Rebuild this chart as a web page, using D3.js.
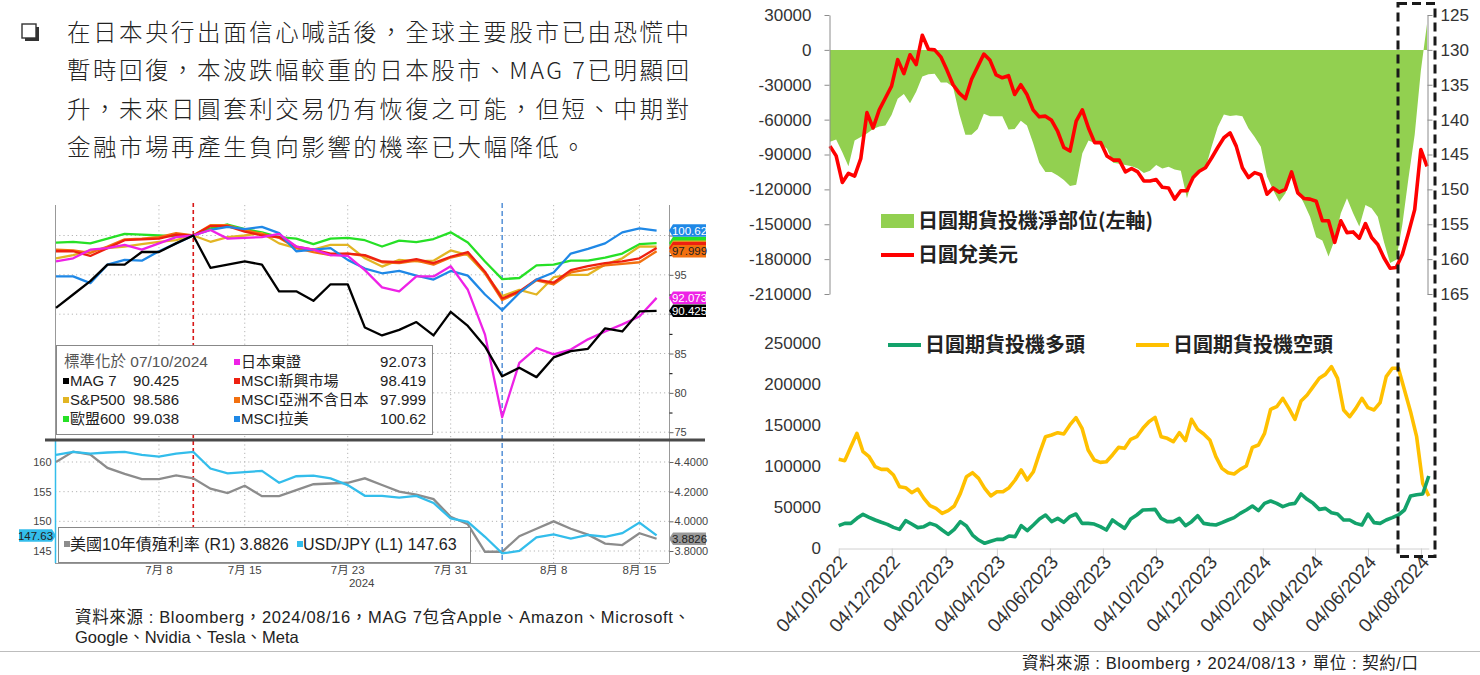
<!DOCTYPE html>
<html>
<head>
<meta charset="utf-8">
<script src="https://cdn.jsdelivr.net/npm/d3@7"></script>
<style>
  body { margin: 0; background: #fff; }
  svg { display: block; font-family: "Liberation Sans", "Noto Sans CJK TC", sans-serif; }
</style>
</head>
<body>
<svg id="chart" width="1480" height="675"></svg>
<script>
// ---------- data: left panel (Bloomberg, rebased to 07/10/2024 = 100) ----------
var bbDates = ["2024-06-28","2024-07-01","2024-07-02","2024-07-03","2024-07-04","2024-07-05",
  "2024-07-08","2024-07-09","2024-07-10","2024-07-11","2024-07-12","2024-07-15","2024-07-16",
  "2024-07-17","2024-07-18","2024-07-19","2024-07-22","2024-07-23","2024-07-24","2024-07-25",
  "2024-07-26","2024-07-29","2024-07-30","2024-07-31","2024-08-01","2024-08-02","2024-08-05",
  "2024-08-06","2024-08-07","2024-08-08","2024-08-09","2024-08-12","2024-08-13","2024-08-14",
  "2024-08-15","2024-08-16"];
var bbTicks = ["2024-07-08","2024-07-15","2024-07-23","2024-07-31","2024-08-08","2024-08-15"];
var bbTickLabels = ["7月 8","7月 15","7月 23","7月 31","8月 8","8月 15"];

var mag7 = [90.8,92.5,94.2,96.3,96.3,97.9,97.9,99.0,100,95.9,96.3,96.7,96.3,92.9,92.9,91.7,93.8,93.8,
  88.3,87.3,88.0,89.0,87.3,90.3,88.5,85.9,82.1,83.2,82.0,84.5,85.3,85.6,88.2,87.8,90.35,90.425];
var topix = [96.7,97.1,98.2,98.4,98.8,98.2,99.0,99.8,100,100.7,99.6,99.7,99.8,100.2,98.6,98.2,97.5,97.4,
  95.6,93.4,92.9,94.8,94.8,96.1,93.1,87.4,76.9,83.8,85.7,84.9,85.5,86.8,87.8,88.7,89.7,92.073];
var msciEm = [98.0,98.0,97.4,98.4,99.4,99.5,99.6,100.1,100,101.2,101.2,100.5,100.0,99.8,98.6,98.2,97.7,97.7,
  97.5,96.7,96.6,97.0,96.5,97.3,97.9,95.4,92.0,92.9,94.4,94.0,95.6,96.1,96.5,96.7,97.1,98.419];
var msciAsiaXJ = [98.2,98.1,97.8,98.6,99.5,99.6,99.8,100.3,100,101.3,101.3,100.7,100.2,99.7,98.4,97.9,97.5,97.7,
  97.4,96.6,96.5,96.8,96.3,97.2,97.7,95.2,91.8,92.8,94.3,93.8,95.3,95.7,96.2,96.4,96.6,97.999];
var spx = [97.1,97.5,98.1,98.4,98.6,98.9,99.2,99.4,100,99.2,99.8,100.0,100.3,99.0,98.4,98.2,98.8,98.8,
  97.1,96.05,96.9,96.7,96.8,98.1,97.5,95.2,92.3,93.1,92.5,94.7,95.0,95.0,96.3,97.1,98.6,98.586];
var stoxx600 = [99.1,99.2,99.0,99.6,100.2,100.1,100.0,99.9,100,100.9,101.4,100.8,100.4,99.8,99.6,98.9,99.6,99.7,
  99.4,98.6,99.35,99.15,99.55,100.4,99.1,96.7,94.45,94.6,96.2,96.3,96.8,96.8,97.2,97.7,98.9,99.038];
var msciLatam = [94.8,94.8,93.95,96.3,96.9,96.8,98.0,99.0,100,100.7,101.1,100.8,101.1,100.3,98.0,98.2,98.4,96.9,
  95.8,95.2,95.5,94.9,94.4,95.5,94.9,92.5,90.5,92.7,94.4,95.3,97.7,98.3,99.0,100.4,100.9,100.62];
var us10y = [4.40,4.47,4.45,4.36,4.32,4.285,4.285,4.31,4.29,4.22,4.19,4.24,4.17,4.17,4.21,4.25,4.255,4.26,
  4.29,4.245,4.20,4.18,4.15,4.03,3.98,3.795,3.795,3.90,3.95,4.00,3.95,3.91,3.85,3.84,3.92,3.8826];
var usdjpyDaily = [161.2,161.7,161.4,161.6,161.7,161.2,160.9,161.4,161.7,158.9,158.1,158.3,158.5,156.5,157.6,157.7,
  157.25,156.1,154.3,154.3,154.0,154.3,153.1,150.5,149.9,147.4,144.6,145.0,147.3,147.8,147.1,147.7,147.4,148.0,149.8,147.63];

// ---------- data: right panel (CFTC yen futures, weekly from 04/10/2022) ----------
var cotStart = "2022-10-04";
var netPos = [-79000,-77000,-88000,-100000,-78000,-75000,-72000,-68000,-66000,-65000,-56000,-42000,-38000,-46000,
  -36000,-23000,-21000,-20500,-28000,-28000,-32000,-55000,-73000,-73000,-68000,-55000,-57000,-57000,-57000,-68500,
  -68000,-61000,-65000,-80000,-97000,-105000,-105000,-108000,-112000,-117000,-116000,-89000,-78000,-80000,-81000,
  -85000,-97000,-98000,-99000,-100000,-102000,-106000,-104000,-99000,-102000,-100600,-103000,-104000,-127700,
  -109000,-105000,-102000,-83400,-66300,-55500,-56900,-56300,-57200,-67700,-74900,-83400,-109000,-120600,-130600,
  -123400,-105700,-122000,-132000,-143500,-161200,-164000,-177700,-163400,-140600,-127700,-140600,-152000,-133400,
  -136300,-143500,-165000,-183400,-180600,-150000,-110000,-73000,-18000,22300];
var usdjpyWeekly = [143.8,145.2,149.0,147.7,148.1,145.6,139.0,141.2,138.6,136.9,135.2,131.4,133.4,130.7,132.1,127.9,
  129.9,130.0,131.0,132.9,135.0,136.2,137.0,134.2,132.4,130.6,131.5,133.6,134.0,133.7,136.4,135.0,136.4,138.6,139.6,
  139.5,140.1,141.7,144.0,144.5,140.2,138.6,141.2,143.3,143.3,145.2,145.8,145.8,147.5,147.0,147.5,148.8,148.8,148.6,
  149.7,149.8,151.4,150.2,150.2,148.3,147.4,146.9,145.5,144.0,142.6,141.9,143.8,146.9,148.3,147.6,147.9,150.7,149.8,
  150.4,150.0,147.5,150.5,151.3,151.4,151.7,154.5,154.5,157.6,154.5,156.2,156.1,157.0,154.9,156.9,157.9,159.8,161.3,
  161.2,159.3,156.2,152.9,144.3,146.7];
var longPos = [27600,30400,30400,36500,41400,37800,34500,31700,29200,25500,23100,33700,29600,25200,26400,30400,28000,
  22300,17000,23100,32500,27200,16200,10100,6100,8500,10900,10900,15000,14200,27600,21500,28400,35700,40600,32500,
  36500,31700,38600,41800,30400,30400,29600,26400,22300,34500,29200,24300,35700,40600,46700,47100,47500,36500,32500,
  32500,36500,27600,32500,39800,30400,29200,28400,31300,34500,37400,42600,46700,51600,45900,54800,57700,54800,50800,
  53600,54800,66200,59700,54800,47500,48700,43400,41800,34500,34500,30400,28400,41800,31300,30400,34500,37400,40600,
  46700,63800,65400,66200,88200];
var shortPos = [108500,106900,123900,140200,117800,111700,99500,96300,96300,89400,75100,73900,67800,72300,60900,52000,
  48700,42600,45900,51600,67000,87300,92200,85300,73100,63800,69000,69000,73900,83300,95500,83300,93400,115800,
  136100,138200,141000,139400,150400,159300,146300,119900,107700,104800,105600,113800,123100,121900,132900,136100,
  146300,154400,159700,136100,134100,130000,141000,131300,157300,145100,139400,132100,111700,97500,92200,90600,96300,
  100400,123100,126000,140200,169500,172700,182900,170700,157300,179600,186900,197100,207300,212100,221500,207300,
  168700,160500,170700,182900,171500,168700,177600,209300,219500,219500,193000,166600,136100,79200,63800];
var cotTicks = ["2022-10-04","2022-12-04","2023-02-04","2023-04-04","2023-06-04","2023-08-04","2023-10-04",
  "2023-12-04","2024-02-04","2024-04-04","2024-06-04","2024-08-04"];
var netTicks = [30000,0,-30000,-60000,-90000,-120000,-150000,-180000,-210000];
var fxTicks = [125,130,135,140,145,150,155,160,165];
var posTicks = [0,50000,100000,150000,200000,250000];

var introLines = [
  "在日本央行出面信心喊話後，全球主要股市已由恐慌中",
  "暫時回復，本波跌幅較重的日本股市、MAG 7已明顯回",
  "升，未來日圓套利交易仍有恢復之可能，但短、中期對",
  "金融市場再產生負向影響的機率已大幅降低。"
];

var parse = d3.timeParse("%Y-%m-%d");
var svg = d3.select("#chart");
svg.append("rect").attr("width", 1480).attr("height", 675).attr("fill", "#fff");

// ---------- intro text ----------
svg.append("rect").attr("x", 25).attr("y", 27).attr("width", 14).attr("height", 14).attr("fill", "#333");
svg.append("rect").attr("x", 22).attr("y", 24).attr("width", 14).attr("height", 14)
  .attr("fill", "#fff").attr("stroke", "#333").attr("stroke-width", 1.4);
svg.append("g").selectAll("text").data(introLines).enter().append("text")
  .attr("x", 67)
  .attr("y", function(d, i) { return 41 + i * 38.3; })
  .attr("textLength", function(d, i) { return i < 3 ? 622 : 518; })
  .attr("lengthAdjust", "spacing")
  .style("font-family", "'Noto Sans CJK TC', sans-serif")
  .style("font-weight", 300)
  .style("font-size", "23.5px")
  .attr("fill", "#222")
  .text(function(d) { return d; });

// ---------- left: Bloomberg chart ----------
var bb = svg.append("g").style("font-family", "'Liberation Sans Narrow','Liberation Sans','Noto Sans CJK TC',sans-serif");
var xL = d3.scalePoint().domain(bbDates).range([56, 656.6]);
var yL = d3.scaleLinear().domain([75, 100]).range([432.2, 235.5]);
var yR1 = d3.scaleLinear().domain([3.8, 4.4]).range([551, 462]);
var yL1 = d3.scaleLinear().domain([145, 160]).range([551, 462]);

// gridlines
bb.selectAll(".hg").data([75, 80, 85, 90, 95, 100]).enter().append("line")
  .attr("x1", 55).attr("x2", 669).attr("y1", function(d) { return yL(d); }).attr("y2", function(d) { return yL(d); })
  .attr("stroke", "#b5b5b5").attr("stroke-dasharray", "1.2,3");
bb.selectAll(".hg2").data([3.8, 4.0, 4.2, 4.4]).enter().append("line")
  .attr("x1", 55).attr("x2", 669).attr("y1", function(d) { return yR1(d); }).attr("y2", function(d) { return yR1(d); })
  .attr("stroke", "#b5b5b5").attr("stroke-dasharray", "1.2,3");
bb.selectAll(".vg").data(bbTicks).enter().append("line")
  .attr("x1", function(d) { return xL(d); }).attr("x2", function(d) { return xL(d); })
  .attr("y1", 205).attr("y2", 563)
  .attr("stroke", "#b5b5b5").attr("stroke-dasharray", "1.2,3");

// event markers
bb.append("line").attr("x1", xL("2024-07-10")).attr("x2", xL("2024-07-10")).attr("y1", 203).attr("y2", 563)
  .attr("stroke", "#d81818").attr("stroke-width", 1.6).attr("stroke-dasharray", "4,3");
bb.append("line").attr("x1", xL("2024-08-05")).attr("x2", xL("2024-08-05")).attr("y1", 203).attr("y2", 563)
  .attr("stroke", "#3a7fd0").attr("stroke-width", 1.3).attr("stroke-dasharray", "5,3");

// frame
bb.append("line").attr("x1", 55.5).attr("x2", 55.5).attr("y1", 205).attr("y2", 440).attr("stroke", "#999");
bb.append("line").attr("x1", 55.5).attr("x2", 55.5).attr("y1", 440).attr("y2", 563).attr("stroke", "#33bdeb").attr("stroke-width", 1.5);
bb.append("line").attr("x1", 669.5).attr("x2", 669.5).attr("y1", 205).attr("y2", 563).attr("stroke", "#999");
bb.append("line").attr("x1", 55).attr("x2", 669).attr("y1", 563.5).attr("y2", 563.5).attr("stroke", "#999");

// lines
var bbSeries = [
  { values: stoxx600, color: "#26e026" },
  { values: spx, color: "#e2b524" },
  { values: msciAsiaXJ, color: "#f2700f" },
  { values: msciEm, color: "#ee2010" },
  { values: msciLatam, color: "#1f88e6" },
  { values: topix, color: "#ee22e6" },
  { values: mag7, color: "#000" }
];
var lineL = d3.line().x(function(d, i) { return xL(bbDates[i]); }).y(function(d) { return yL(d); });
bb.selectAll(".ser").data(bbSeries).enter().append("path")
  .attr("d", function(s) { return lineL(s.values); })
  .attr("fill", "none").attr("stroke", function(s) { return s.color; }).attr("stroke-width", 2.3)
  .attr("stroke-linejoin", "round");

bb.append("path").datum(us10y)
  .attr("d", d3.line().x(function(d, i) { return xL(bbDates[i]); }).y(function(d) { return yR1(d); }))
  .attr("fill", "none").attr("stroke", "#8c8c8c").attr("stroke-width", 2.3);
bb.append("path").datum(usdjpyDaily)
  .attr("d", d3.line().x(function(d, i) { return xL(bbDates[i]); }).y(function(d) { return yL1(d); }))
  .attr("fill", "none").attr("stroke", "#33bdeb").attr("stroke-width", 2.3);

// right axis top panel (90 and 100 sit behind the value tags)
var axT = bb.append("g").attr("transform", "translate(669.5,0)")
  .call(d3.axisRight(yL).tickValues([75, 80, 85, 90, 95, 100]).tickSize(4).tickPadding(1)
    .tickFormat(function(d) { return (d === 90 || d === 100) ? "" : d3.format("d")(d); }));
bb.append("g").attr("transform", "translate(669.5,0)")
  .call(d3.axisRight(yL).tickValues([77.5, 82.5, 87.5, 92.5, 97.5]).tickSize(3).tickFormat(""));
var axB = bb.append("g").attr("transform", "translate(669.5,0)")
  .call(d3.axisRight(yR1).tickValues([3.8, 4.0, 4.2, 4.4]).tickSize(4).tickPadding(1).tickFormat(d3.format(".4f")));
var axL = bb.append("g").attr("transform", "translate(55.5,0)")
  .call(d3.axisLeft(yL1).tickValues([145, 150, 155, 160]).tickSize(0).tickPadding(4).tickFormat(d3.format("d")));
[axT, axB, axL].forEach(function(a) {
  a.select(".domain").remove();
  a.selectAll("line").attr("stroke", "#666");
  a.selectAll("text").attr("fill", "#444").style("font-size", "11px");
});
bb.selectAll(".domain").remove();

// x labels
bb.selectAll(".xl").data(bbTicks).enter().append("text")
  .attr("x", function(d) { return xL(d); }).attr("y", 574)
  .attr("text-anchor", "middle").attr("fill", "#444").style("font-size", "11.5px")
  .text(function(d, i) { return bbTickLabels[i]; });
bb.append("text").attr("x", xL("2024-07-23") + 14).attr("y", 587).attr("text-anchor", "middle")
  .attr("fill", "#444").style("font-size", "11.5px").text("2024");

// value tags (the ones stacked behind show only as coloured strips)
function tag(x, y, fill, txt, txtColor, pointLeft) {
  var h = 12.5, a = 4, w = 37;
  var p = pointLeft
    ? "M" + x + "," + y + "L" + (x + a) + "," + (y - h / 2) + "L" + (x + w) + "," + (y - h / 2) + "L" + (x + w) + "," + (y + h / 2) + "L" + (x + a) + "," + (y + h / 2) + "Z"
    : "M" + x + "," + y + "L" + (x - a) + "," + (y - h / 2) + "L" + (x - w) + "," + (y - h / 2) + "L" + (x - w) + "," + (y + h / 2) + "L" + (x - a) + "," + (y + h / 2) + "Z";
  bb.append("path").attr("d", p).attr("fill", fill);
  if (txt) {
    bb.append("text").attr("x", pointLeft ? x + a + (w - a) / 2 : x - a - (w - a) / 2).attr("y", y)
      .attr("dy", "0.36em").attr("text-anchor", "middle").attr("fill", txtColor).style("font-size", "11.5px").text(txt);
  }
}
var fmt5 = d3.format(".5");
tag(669, yL(stoxx600[35]), "#26e026", null, "#222", true);
tag(669, yL(spx[35]), "#e2b524", null, "#222", true);
tag(669, yL(msciEm[35]), "#ee2010", null, "#fff", true);
tag(669, yL(msciAsiaXJ[35]), "#f2700f", fmt5(msciAsiaXJ[35]), "#222", true);
tag(669, yL(msciLatam[35]), "#1f88e6", fmt5(msciLatam[35]), "#fff", true);
tag(669, yL(topix[35]), "#ee22e6", fmt5(topix[35]), "#fff", true);
tag(669, yL(mag7[35]), "#000", fmt5(mag7[35]), "#fff", true);
tag(669, yR1(us10y[35]), "#999", fmt5(us10y[35]), "#222", true);
tag(56, yL1(usdjpyDaily[35]), "#33bdeb", fmt5(usdjpyDaily[35]), "#222", false);

// legend box (top panel)
bb.append("rect").attr("x", 56.5).attr("y", 345.5).attr("width", 376).attr("height", 89)
  .attr("fill", "#fff").attr("stroke", "#888");
var legRows = [
  ["MAG 7", mag7, "#000"],
  ["S&P500", spx, "#e2b524"],
  ["歐盟600", stoxx600, "#26e026"]
];
var legRight = [
  ["日本東證", topix, "#ee22e6"],
  ["MSCI新興市場", msciEm, "#ee2010"],
  ["MSCI亞洲不含日本", msciAsiaXJ, "#f2700f"],
  ["MSCI拉美", msciLatam, "#1f88e6"]
];
var rowY = [367, 386, 405, 424];
bb.append("text").attr("x", 64).attr("y", rowY[0]).attr("fill", "#555").style("font-size", "15.5px").text("標準化於 07/10/2024");
legRows.forEach(function(r, i) {
  var y = rowY[i + 1];
  bb.append("rect").attr("x", 63).attr("y", y - 8).attr("width", 6).attr("height", 6).attr("fill", r[2]);
  bb.append("text").attr("x", 70).attr("y", y).attr("fill", "#222").style("font-size", "15px").text(r[0]);
  bb.append("text").attr("x", 179).attr("y", y).attr("text-anchor", "end").attr("fill", "#222").style("font-size", "15px").text(fmt5(r[1][35]));
});
legRight.forEach(function(r, i) {
  var y = rowY[i];
  bb.append("rect").attr("x", 234).attr("y", y - 8).attr("width", 6).attr("height", 6).attr("fill", r[2]);
  bb.append("text").attr("x", 241).attr("y", y).attr("fill", "#222").style("font-size", "15px").text(r[0]);
  bb.append("text").attr("x", 426).attr("y", y).attr("text-anchor", "end").attr("fill", "#222").style("font-size", "15px").text(fmt5(r[1][35]));
});

// legend box (bottom panel)
bb.append("rect").attr("x", 58.5).attr("y", 527.5).attr("width", 412).attr("height", 35)
  .attr("fill", "#fff").attr("stroke", "#888");
bb.append("rect").attr("x", 64).attr("y", 541).attr("width", 6).attr("height", 6).attr("fill", "#8c8c8c");
bb.append("text").attr("x", 70).attr("y", 550).attr("fill", "#222").style("font-size", "16px")
  .text("美國10年債殖利率 (R1) " + fmt5(us10y[35]));
bb.append("rect").attr("x", 297).attr("y", 541).attr("width", 6).attr("height", 6).attr("fill", "#33bdeb");
bb.append("text").attr("x", 303).attr("y", 550).attr("fill", "#222").style("font-size", "16px")
  .text("USD/JPY (L1) " + fmt5(usdjpyDaily[35]));

// separator between panels
svg.append("line").attr("x1", 45).attr("x2", 705).attr("y1", 440).attr("y2", 440).attr("stroke", "#4a4a4a").attr("stroke-width", 3);

// left source
svg.append("text").attr("x", 75).attr("y", 623).attr("textLength", 615).attr("lengthAdjust", "spacing")
  .attr("fill", "#222").style("font-size", "16.5px")
  .text("資料來源 : Bloomberg，2024/08/16，MAG 7包含Apple、Amazon、Microsoft、");
svg.append("text").attr("x", 75).attr("y", 643).attr("fill", "#222").style("font-size", "16.5px")
  .text("Google、Nvidia、Tesla、Meta");

// ---------- right: yen futures positioning ----------
var cotDates = netPos.map(function(d, i) { return d3.timeDay.offset(parse(cotStart), 7 * i); });
var rt = svg.append("g");
var xT = d3.scaleTime().domain([cotDates[0], cotDates[cotDates.length - 1]]).range([830, 1427]);
var yNet = d3.scaleLinear().domain([-210000, 30000]).range([294, 15]);
var yFx = d3.scaleLinear().domain([125, 165]).range([15, 294]);

rt.append("path").datum(netPos)
  .attr("d", d3.area().x(function(d, i) { return xT(cotDates[i]); }).y0(yNet(0)).y1(function(d) { return yNet(d); }))
  .attr("fill", "#92d050");
rt.append("path").datum(usdjpyWeekly)
  .attr("d", d3.line().x(function(d, i) { return xT(cotDates[i]); }).y(function(d) { return yFx(d); }))
  .attr("fill", "none").attr("stroke", "#ff0000").attr("stroke-width", 3.6).attr("stroke-linejoin", "round");

var axNet = rt.append("g").attr("transform", "translate(829.5,0)")
  .call(d3.axisLeft(yNet).tickValues(netTicks).tickSize(5).tickSizeOuter(0).tickPadding(13).tickFormat(function(d) { return String(d); }));
var axFx = rt.append("g").attr("transform", "translate(1427.5,0)")
  .call(d3.axisRight(yFx).tickValues(fxTicks).tickSize(5).tickSizeOuter(0).tickPadding(8).tickFormat(d3.format("d")));
[axNet, axFx].forEach(function(a) {
  a.select(".domain").attr("stroke", "#8c8c8c");
  a.selectAll("line").attr("stroke", "#8c8c8c");
  a.selectAll("text").attr("fill", "#333").style("font-size", "17px");
});

// top legend
rt.append("rect").attr("x", 881).attr("y", 214).attr("width", 33).attr("height", 14).attr("fill", "#92d050");
rt.append("text").attr("x", 918).attr("y", 228).attr("fill", "#222").style("font-family", "'Noto Sans CJK TC',sans-serif")
  .style("font-size", "20px").style("font-weight", "bold").text("日圓期貨投機淨部位(左軸)");
rt.append("line").attr("x1", 881).attr("x2", 914).attr("y1", 255).attr("y2", 255).attr("stroke", "#ff0000").attr("stroke-width", 4);
rt.append("text").attr("x", 918).attr("y", 262).attr("fill", "#222").style("font-family", "'Noto Sans CJK TC',sans-serif")
  .style("font-size", "20px").style("font-weight", "bold").text("日圓兌美元");

// bottom chart
var xB = d3.scaleTime().domain([cotDates[0], cotDates[cotDates.length - 1]]).range([838.7, 1428.8]);
var yB = d3.scaleLinear().domain([0, 250000]).range([548.3, 343.3]);
var axPos = rt.append("g").attr("transform", "translate(821,0)")
  .call(d3.axisLeft(yB).tickValues(posTicks).tickSize(0).tickPadding(0).tickFormat(function(d) { return String(d); }));
axPos.select(".domain").remove();
axPos.selectAll("text").attr("fill", "#333").style("font-size", "17px");

var axX = rt.append("g").attr("transform", "translate(0,548.5)")
  .call(d3.axisBottom(xB).tickValues(cotTicks.map(parse)).tickSize(8).tickSizeOuter(0).tickFormat(d3.timeFormat("%d/%m/%Y")));
axX.select(".domain").attr("stroke", "#d0d0d0");
axX.selectAll("line").attr("stroke", "#d0d0d0");
axX.selectAll("text").attr("fill", "#333").style("font-size", "19px")
  .attr("text-anchor", "end").attr("dy", "0.35em")
  .attr("transform", "translate(4,10) rotate(-48)").attr("y", 0).attr("x", 0);

rt.append("path").datum(shortPos)
  .attr("d", d3.line().x(function(d, i) { return xB(cotDates[i]); }).y(function(d) { return yB(d); }))
  .attr("fill", "none").attr("stroke", "#ffc000").attr("stroke-width", 3.6).attr("stroke-linejoin", "round");
rt.append("path").datum(longPos)
  .attr("d", d3.line().x(function(d, i) { return xB(cotDates[i]); }).y(function(d) { return yB(d); }))
  .attr("fill", "none").attr("stroke", "#13a26b").attr("stroke-width", 3.6).attr("stroke-linejoin", "round");

rt.append("line").attr("x1", 888).attr("x2", 921).attr("y1", 345).attr("y2", 345).attr("stroke", "#13a26b").attr("stroke-width", 4);
rt.append("text").attr("x", 925).attr("y", 352).attr("fill", "#222").style("font-family", "'Noto Sans CJK TC',sans-serif")
  .style("font-size", "20px").style("font-weight", "bold").text("日圓期貨投機多頭");
rt.append("line").attr("x1", 1136).attr("x2", 1169).attr("y1", 345).attr("y2", 345).attr("stroke", "#ffc000").attr("stroke-width", 4);
rt.append("text").attr("x", 1173).attr("y", 352).attr("fill", "#222").style("font-family", "'Noto Sans CJK TC',sans-serif")
  .style("font-size", "20px").style("font-weight", "bold").text("日圓期貨投機空頭");

// highlight box for latest weeks
rt.append("rect").attr("x", 1398).attr("y", 3.5).attr("width", 37).attr("height", 553)
  .attr("fill", "none").attr("stroke", "#1a1a1a").attr("stroke-width", 3).attr("stroke-dasharray", "9,5");

// footer
svg.append("line").attr("x1", 0).attr("x2", 1480).attr("y1", 651.5).attr("y2", 651.5).attr("stroke", "#bdbdbd");
svg.append("text").attr("x", 1022).attr("y", 669).attr("textLength", 396).attr("lengthAdjust", "spacing")
  .attr("fill", "#222").style("font-size", "16.5px")
  .text("資料來源 : Bloomberg，2024/08/13，單位 : 契約/口");
</script>
</body>
</html>
